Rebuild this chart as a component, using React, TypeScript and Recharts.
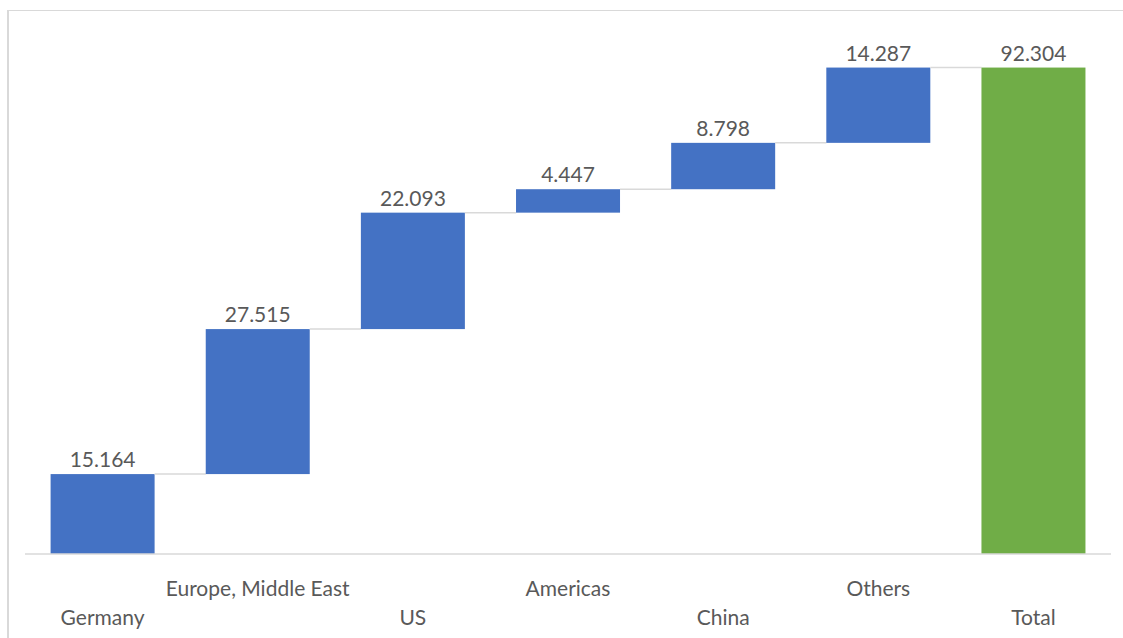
import React from "react";
import { BarChart, Bar, XAxis, YAxis, LabelList } from "recharts";

// waterfall inputs
const categories = ["Germany", "Europe, Middle East", "US", "Americas", "China", "Others", "Total"];
const values = [15.164, 27.515, 22.093, 4.447, 8.798, 14.287, 92.304];
const totals = [false, false, false, false, false, false, true];

const BLUE = "#4472C4";
const GREEN = "#70AD47";
const GRID = "#d9d9d9";
const TEXT = "#595959";
const FONT = "Lato, 'Open Sans', sans-serif";
const CAT_GAP = 0.165; // per side, fraction of band

const buildRows = () => {
  let running = 0;
  return categories.map((name, i) => {
    const isTotal = totals[i];
    const base = isTotal ? 0 : running;
    if (!isTotal) running += values[i];
    return {
      name,
      base,
      value: values[i],
      isTotal,
      connect: i < categories.length - 1,
    };
  });
};

const rows = buildRows();

// bar plus connector to the next bar at the top level
const WaterfallBar = (props: any) => {
  const { x, y, width, height, payload } = props;
  const gap = (width * (2 * CAT_GAP)) / (1 - 2 * CAT_GAP);
  return (
    <g>
      <rect x={x} y={y} width={width} height={height} fill={payload.isTotal ? GREEN : BLUE} />
      {payload.connect && (
        <line x1={x + width} x2={x + width + gap} y1={y} y2={y} stroke={GRID} strokeWidth={1.5} />
      )}
    </g>
  );
};

const StaggeredTick = (props: any) => {
  const { x, y, payload } = props;
  const low = payload.index % 2 === 0;
  return (
    <text
      x={x}
      y={y}
      dy={low ? 63 : 34}
      textAnchor="middle"
      fill={TEXT}
      fontSize={21}
      fontFamily={FONT}
    >
      {payload.value}
    </text>
  );
};

export default function App() {
  return (
    <div
      style={{
        position: "absolute",
        left: 0,
        top: 0,
        width: 1123,
        height: 638,
        overflow: "hidden",
        background: "#fff",
      }}
    >
      <div
        style={{
          position: "absolute",
          left: 7,
          top: 10,
          width: 1300,
          height: 800,
          borderLeft: `2px solid ${GRID}`,
          borderTop: `1px solid ${GRID}`,
        }}
      />
      <div style={{ position: "absolute", left: 0, top: 0 }}>
        <BarChart
          width={1123}
          height={638}
          data={rows}
          margin={{ top: 27, right: 12, left: 25, bottom: 54 }}
          barCategoryGap={`${CAT_GAP * 100}%`}
        >
          <XAxis
            dataKey="name"
            interval={0}
            height={30}
            tickLine={false}
            axisLine={{ stroke: GRID, strokeWidth: 1.5 }}
            tick={<StaggeredTick />}
          />
          <YAxis hide domain={[0, 100]} />
          <Bar dataKey="base" stackId="w" fill="transparent" isAnimationActive={false} />
          <Bar dataKey="value" stackId="w" shape={<WaterfallBar />} isAnimationActive={false}>
            <LabelList
              dataKey="value"
              position="top"
              offset={7}
              formatter={(v: any) => Number(v).toFixed(3)}
              fill={TEXT}
              fontSize={21}
              fontFamily={FONT}
            />
          </Bar>
        </BarChart>
      </div>
    </div>
  );
}
